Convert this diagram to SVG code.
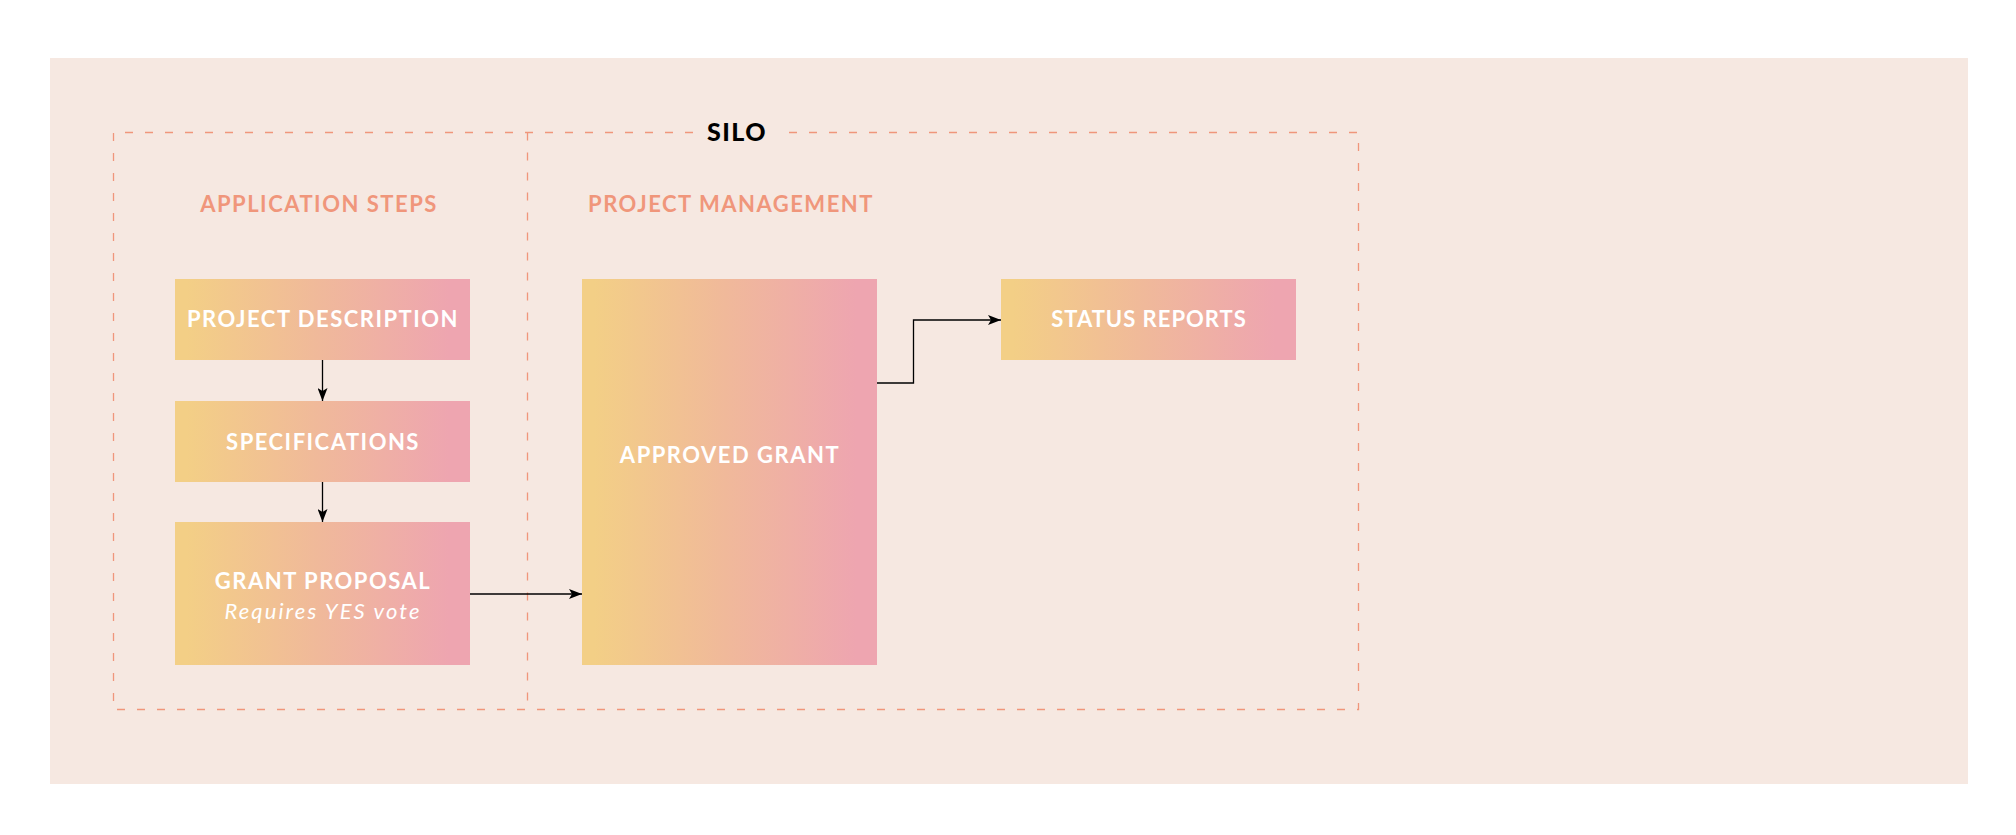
<svg xmlns="http://www.w3.org/2000/svg" width="2016" height="835" viewBox="0 0 2016 835">
  <defs>
    <linearGradient id="nodeFill" x1="0.04" y1="0" x2="0.93" y2="0">
      <stop offset="0" stop-color="#F3CF86"/>
      <stop offset="0.5" stop-color="#F0B99A"/>
      <stop offset="1" stop-color="#EEA5B0"/>
    </linearGradient>
    <marker id="arrow" viewBox="0 0 13 10" refX="13" refY="5" markerWidth="13" markerHeight="10" markerUnits="userSpaceOnUse" orient="auto">
      <path d="M0,0 L13,5 L0,10 L3,5 Z" fill="#000"/>
    </marker>
    <style>
      .frame { fill: none; stroke: #F0967B; stroke-width: 1.3; stroke-dasharray: 8 12; }
      .heading { font-family: Lato, "Open Sans", sans-serif; font-weight: 700; font-size: 22px; letter-spacing: 1.5px; fill: #F0967B; text-anchor: middle; }
      .silo { font-family: Lato, "Open Sans", sans-serif; font-weight: 900; font-size: 25px; letter-spacing: 1.5px; fill: #000; text-anchor: middle; }
      .box { fill: url(#nodeFill); }
      .label { font-family: Lato, "Open Sans", sans-serif; font-weight: 700; font-size: 22px; letter-spacing: 1.5px; fill: #FFFFFF; text-anchor: middle; }
      .label.tight { letter-spacing: 1px; }
      .note { font-family: Lato, "Open Sans", sans-serif; font-style: italic; font-size: 22px; letter-spacing: 2.1px; fill: #FFFFFF; text-anchor: middle; }
      .link { fill: none; stroke: #000; stroke-width: 1.3; marker-end: url(#arrow); }
    </style>
  </defs>

  <!-- page backdrop -->
  <rect x="50" y="58" width="1918" height="726" fill="#F6E8E1"/>

  <!-- silo frame with title gap -->
  <g id="silo">
    <path class="frame" d="M693,132.5 L113.5,132.5 L113.5,709.5 L1358.5,709.5 L1358.5,132.5 L779,132.5"/>
    <path class="frame" d="M527.5,132.5 L527.5,709.5"/>
    <text class="silo" x="737" y="141">SILO</text>
  </g>

  <g id="lane-application">
    <text class="heading" x="319" y="212">APPLICATION STEPS</text>
  </g>
  <g id="lane-management">
    <text class="heading" x="731" y="212">PROJECT MANAGEMENT</text>
  </g>

  <!-- connectors -->
  <g id="connectors">
    <path class="link" d="M322.5,360 L322.5,401"/>
    <path class="link" d="M322.5,482 L322.5,522"/>
    <path class="link" d="M470,594 L582,594"/>
    <path class="link" d="M877,383 L913.5,383 L913.5,320 L1001,320"/>
  </g>

  <g id="project-description">
    <rect class="box" x="175" y="279" width="295" height="81"/>
    <text class="label" x="323" y="327">PROJECT DESCRIPTION</text>
  </g>

  <g id="specifications">
    <rect class="box" x="175" y="401" width="295" height="81"/>
    <text class="label" x="323" y="449.5">SPECIFICATIONS</text>
  </g>

  <g id="grant-proposal">
    <rect class="box" x="175" y="522" width="295" height="143"/>
    <text class="label" x="323" y="589">GRANT PROPOSAL</text>
    <text class="note" x="323" y="619">Requires YES vote</text>
  </g>

  <g id="approved-grant">
    <rect class="box" x="582" y="279" width="295" height="386"/>
    <text class="label" x="730" y="463">APPROVED GRANT</text>
  </g>

  <g id="status-reports">
    <rect class="box" x="1001" y="279" width="295" height="81"/>
    <text class="label tight" x="1149" y="327">STATUS REPORTS</text>
  </g>
</svg>
